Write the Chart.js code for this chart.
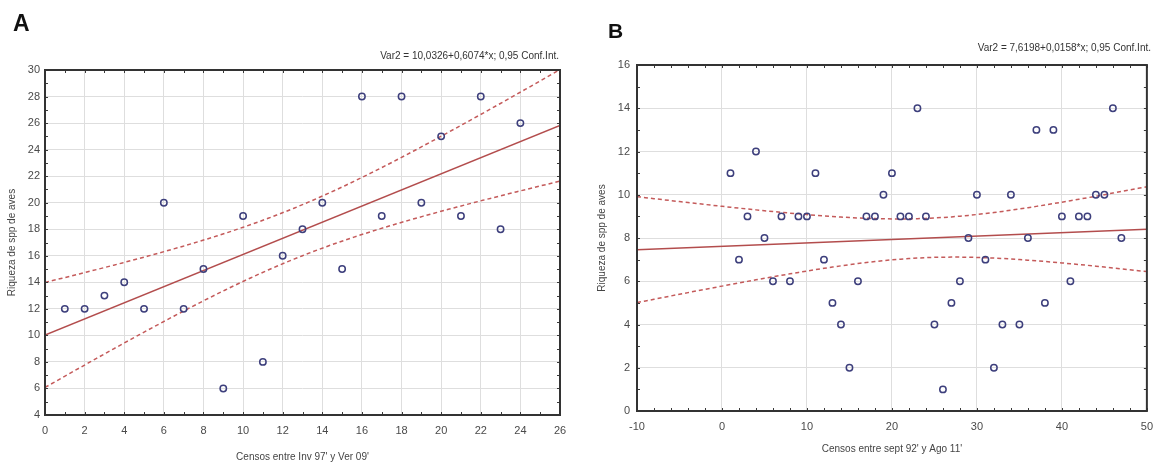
<!DOCTYPE html>
<html>
<head>
<meta charset="utf-8">
<script src="https://cdn.jsdelivr.net/npm/chart.js@4.4.0/dist/chart.umd.min.js"></script>
<style>
  body{margin:0;background:#fff;width:1162px;height:464px;position:relative;overflow:hidden;font-family:"Liberation Sans",Arial,sans-serif;}
  .panel{position:absolute;top:0;width:581px;height:464px;}
  .letra{position:absolute;font-weight:bold;line-height:1;color:#111;}
  .ecuacion{position:absolute;font-size:10px;line-height:12px;color:#333;white-space:nowrap;}
</style>
</head>
<body>
<div class="panel" style="left:0"><canvas id="graficoA" width="581" height="464"></canvas></div>
<div class="panel" style="left:581px"><canvas id="graficoB" width="581" height="464"></canvas></div>
<div class="letra" style="left:13px;top:12px;font-size:23px">A</div>
<div class="letra" style="left:608px;top:20px;font-size:21px">B</div>
<div class="ecuacion" id="ecuacionA" style="right:603px;top:50px"></div>
<div class="ecuacion" id="ecuacionB" style="right:11px;top:42px"></div>

<script>
// Panel A: censos entre Inv 97' y Ver 09'
const censosA = [1,2,3,4,5,6,7,8,9,10,11,12,13,14,15,16,17,18,19,20,21,22,23,24];
const riquezaA = [12,12,13,14,12,20,12,15,6,19,8,16,18,20,15,28,19,28,20,25,19,28,18,26];
const interceptoA = 10.0326;
const pendienteA = 0.6074;
const tA = 2.0739; // t(0,975; 22 gl)
const ticksXA = [0,2,4,6,8,10,12,14,16,18,20,22,24,26];
const ticksYA = [4,6,8,10,12,14,16,18,20,22,24,26,28,30];

// Panel B: censos entre sept 92' y Ago 11'
const censosB = [1,2,3,4,5,6,7,8,9,10,11,12,13,14,15,16,17,18,19,20,21,22,23,24,
                 25,26,27,28,29,30,31,32,33,34,35,36,37,38,39,40,41,42,43,44,45,46,47];
const riquezaB = [11,7,9,12,8,6,9,6,9,9,11,7,5,4,2,6,9,9,10,11,9,9,14,9,
                  4,1,5,6,8,10,7,2,4,10,4,8,13,5,13,9,6,9,9,10,10,14,8];
const interceptoB = 7.6198;
const pendienteB = 0.0158;
const tB = 2.0141; // t(0,975; 45 gl)
const ticksXB = [-10,0,10,20,30,40,50];
const ticksYB = [0,2,4,6,8,10,12,14,16];

const fmt = v => v.toFixed(4).replace('.', ',');
document.getElementById('ecuacionA').textContent =
  'Var2 = ' + fmt(interceptoA) + '+' + fmt(pendienteA) + '*x; 0,95 Conf.Int.';
document.getElementById('ecuacionB').textContent =
  'Var2 = ' + fmt(interceptoB) + '+' + fmt(pendienteB) + '*x; 0,95 Conf.Int.';

// intervalo de confianza 95% de la recta
function bandaConfianza(xs, ys, a, b, t, desde, hasta, paso) {
  const n = xs.length;
  const mx = xs.reduce((s, v) => s + v, 0) / n;
  let sxx = 0, sse = 0;
  xs.forEach((x, i) => {
    sxx += (x - mx) ** 2;
    const r = ys[i] - (a + b * x);
    sse += r * r;
  });
  const s = Math.sqrt(sse / (n - 2));
  const sup = [], inf = [];
  for (let x = desde; x <= hasta + 1e-9; x += paso) {
    const h = t * s * Math.sqrt(1 / n + (x - mx) ** 2 / sxx);
    const yy = a + b * x;
    sup.push({x: x, y: yy + h});
    inf.push({x: x, y: yy - h});
  }
  return {sup, inf};
}

// marco del área de trazado con marcas menores hacia dentro
const marco = {
  id: 'marco',
  afterDatasetsDraw(chart, args, opts) {
    const {ctx, chartArea: ca, scales: {x, y}} = chart;
    ctx.save();
    ctx.strokeStyle = '#3a3a3a';
    ctx.lineWidth = 1;
    ctx.beginPath();
    for (let v = x.min; v <= x.max + 1e-9; v += opts.menorX) {
      const px = Math.round(x.getPixelForValue(v)) + 0.5;
      ctx.moveTo(px, ca.top); ctx.lineTo(px, ca.top + 3);
      ctx.moveTo(px, ca.bottom); ctx.lineTo(px, ca.bottom - 3);
    }
    for (let v = y.min; v <= y.max + 1e-9; v += opts.menorY) {
      const py = Math.round(y.getPixelForValue(v)) + 0.5;
      ctx.moveTo(ca.left, py); ctx.lineTo(ca.left + 3, py);
      ctx.moveTo(ca.right, py); ctx.lineTo(ca.right - 3, py);
    }
    ctx.stroke();
    ctx.lineWidth = 2;
    ctx.strokeStyle = '#333';
    ctx.strokeRect(ca.left, ca.top, ca.width, ca.height);
    ctx.restore();
  }
};

function crearGrafico(id, c) {
  const banda = bandaConfianza(c.xs, c.ys, c.a, c.b, c.t, c.xMin, c.xMax, (c.xMax - c.xMin) / 60);
  const linea = {
    showLine: true, pointRadius: 0, borderWidth: 1.5, fill: false
  };
  const fuenteTick = {family: '"Liberation Sans", Arial, sans-serif', size: 11};
  const fuenteTitulo = {family: '"Liberation Sans", Arial, sans-serif', size: 10};
  return new Chart(document.getElementById(id), {
    type: 'scatter',
    data: {
      datasets: [
        {
          data: c.xs.map((x, i) => ({x: x, y: c.ys[i]})),
          pointRadius: 3.2,
          pointBorderWidth: 1.5,
          pointBackgroundColor: 'rgba(0,0,0,0)',
          pointBorderColor: '#3d3f7c'
        },
        Object.assign({
          data: [{x: c.xMin, y: c.a + c.b * c.xMin}, {x: c.xMax, y: c.a + c.b * c.xMax}],
          borderColor: '#b34d4d'
        }, linea),
        Object.assign({data: banda.sup, borderColor: '#c45a5a', borderDash: [4, 3]}, linea),
        Object.assign({data: banda.inf, borderColor: '#c45a5a', borderDash: [4, 3]}, linea)
      ]
    },
    options: {
      responsive: false,
      animation: false,
      events: [],
      layout: {padding: {top: c.padTop, right: c.padRight, left: 0, bottom: 0}},
      plugins: {
        legend: {display: false},
        tooltip: {enabled: false},
        marco: {menorX: c.menorX, menorY: c.menorY}
      },
      scales: {
        x: {
          type: 'linear',
          min: c.xMin, max: c.xMax,
          afterBuildTicks: s => { s.ticks = c.ticksX.map(v => ({value: v})); },
          afterFit: s => { s.height = c.altoX; },
          grid: {color: '#dedede', drawTicks: false},
          border: {display: false},
          ticks: {color: '#4a4a4a', font: fuenteTick, padding: 9, maxRotation: 0},
          title: {display: true, text: c.tituloX, color: '#444', font: fuenteTitulo,
                  padding: {top: 0, bottom: c.padTituloX}}
        },
        y: {
          type: 'linear',
          min: c.yMin, max: c.yMax,
          afterBuildTicks: s => { s.ticks = c.ticksY.map(v => ({value: v})); },
          afterFit: s => { s.width = c.anchoY; },
          grid: {color: '#dedede', drawTicks: false},
          border: {display: false},
          ticks: {color: '#4a4a4a', font: fuenteTick, padding: c.padTickY},
          title: {display: true, text: 'Riqueza de spp de aves', color: '#444', font: fuenteTitulo,
                  padding: {top: c.padTituloY, bottom: 0}}
        }
      }
    },
    plugins: [marco]
  });
}

crearGrafico('graficoA', {
  xs: censosA, ys: riquezaA, a: interceptoA, b: pendienteA, t: tA,
  xMin: 0, xMax: 26, yMin: 4, yMax: 30, ticksX: ticksXA, ticksY: ticksYA,
  menorX: 1, menorY: 1,
  tituloX: "Censos entre Inv 97' y Ver 09'",
  padTop: 70, padRight: 21, altoX: 49, anchoY: 45,
  padTickY: 5, padTituloX: 1, padTituloY: 6
});

crearGrafico('graficoB', {
  xs: censosB, ys: riquezaB, a: interceptoB, b: pendienteB, t: tB,
  xMin: -10, xMax: 50, yMin: 0, yMax: 16, ticksX: ticksXB, ticksY: ticksYB,
  menorX: 2, menorY: 1,
  tituloX: "Censos entre sept 92' y Ago 11'",
  padTop: 65, padRight: 9, altoX: 53, anchoY: 56,
  padTickY: 7, padTituloX: 9, padTituloY: 15
});
</script>
</body>
</html>
